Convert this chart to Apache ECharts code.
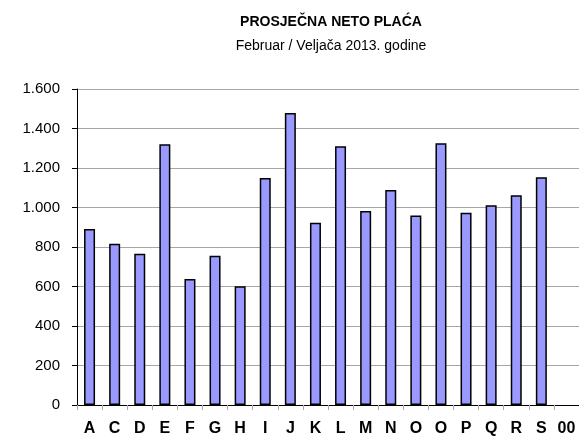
<!DOCTYPE html>
<html><head><meta charset="utf-8">
<script src="https://cdn.jsdelivr.net/npm/echarts@6/dist/echarts.min.js"></script>
<style>html,body{margin:0;padding:0;background:#fff}#c{width:579px;height:437px}</style>
</head><body><div id="c"></div>
<script>
const categories = ['A','C','D','E','F','G','H','I','J','K','L','M','N','O','O','P','Q','R','S','00'];
const values = [891, 817, 766, 1320, 638, 756, 601, 1149, 1478, 923, 1310, 982, 1089, 960, 1325, 974, 1011, 1062, 1153, null];
const yTicks = [0, 200, 400, 600, 800, 1000, 1200, 1400, 1600];
const titleText = 'PROSJEČNA NETO PLAĆA';
const subtitleText = 'Februar / Veljača 2013. godine';

const fmt = v => String(v).replace(/\B(?=(\d{3})+(?!\d))/g, '.');
const chart = echarts.init(document.getElementById('c'), null, {renderer:'canvas'});
chart.setOption({
  animation:false,
  backgroundColor:'#fff',
  textStyle:{fontFamily:'Liberation Sans, Arial, sans-serif'},
  title:{
    text:titleText, subtext:subtitleText, left:326, top:10, textAlign:'center', itemGap:10,
    textStyle:{fontSize:14, fontWeight:'bold', color:'#000', fontFamily:'Liberation Sans, Arial, sans-serif'},
    subtextStyle:{fontSize:14, color:'#000', fontFamily:'Liberation Sans, Arial, sans-serif'}
  },
  grid:{left:77, right:0, top:89, bottom:32, containLabel:false},
  xAxis:{
    type:'category', data:categories,
    axisLine:{lineStyle:{color:'#000', width:1}},
    axisTick:{show:true, length:5, lineStyle:{color:'#aaa'}},
    axisLabel:{interval:0, margin:16, fontSize:16, fontWeight:'bold', color:'#000', fontFamily:'Liberation Sans, Arial, sans-serif'}
  },
  yAxis:{
    type:'value', min:yTicks[0], max:yTicks[yTicks.length-1], interval:yTicks[1]-yTicks[0],
    axisLine:{show:true, lineStyle:{color:'#000', width:1}},
    axisTick:{show:true, length:5, lineStyle:{color:'#000'}},
    axisLabel:{margin:17, fontSize:15, color:'#000', formatter:fmt, fontFamily:'Liberation Sans, Arial, sans-serif'},
    splitLine:{lineStyle:{color:'#a6a6a6', width:1}}
  },
  series:[{
    type:'bar', data:values, barWidth:11,
    itemStyle:{color:'#9999FF', borderColor:'#000', borderWidth:1.5}
  }]
});
</script></body></html>
